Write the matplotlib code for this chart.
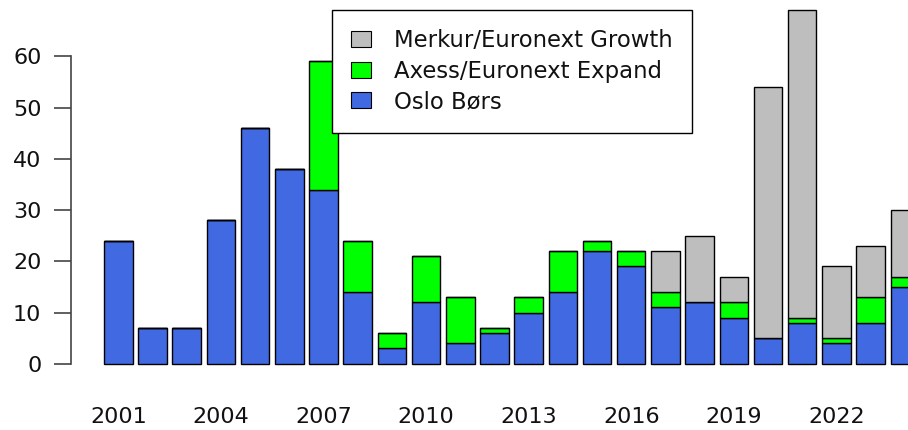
import numpy as np
import matplotlib
matplotlib.use("Agg")
import matplotlib.pyplot as plt
from matplotlib.patches import Patch

# === Data (listings per year and venue) ===
years = list(range(2001, 2025))
oslo = [24, 7, 7, 28, 46, 38, 34, 14, 3, 12, 4, 6, 10, 14, 22, 19, 11, 12, 9, 5, 8, 4, 8, 15]
axess = [0, 0, 0, 0, 0, 0, 25, 10, 3, 9, 9, 1, 3, 8, 2, 3, 3, 0, 3, 0, 1, 1, 5, 2]
merkur = [0, 0, 0, 0, 0, 0, 0, 0, 0, 0, 0, 0, 0, 0, 0, 0, 8, 13, 5, 49, 60, 14, 10, 13]

labels = ["Merkur/Euronext Growth", "Axess/Euronext Expand", "Oslo Børs"]
col_oslo = "#4169E1"
col_axess = "#00FF00"
col_merkur = "#BEBEBE"

plt.rcParams["font.family"] = ["DejaVu Sans"]
FS = 16
FS_LEG = 16.4

W, H, DPI = 908, 430, 100
fig = plt.figure(figsize=(W / DPI, H / DPI), dpi=DPI)

# R-style barplot geometry: width 1, space 0.2
x = 0.7 + 1.2 * np.arange(len(years))
xlim = (-0.944, 29.944)
ylim = (-2.76, 71.76)

# plot region in pixels (runs past the right and top of the image)
left_px, right_px = 71.4, 951.7
bot_px, top_px = 378.0, -4.0
ax = fig.add_axes([left_px / W, (H - bot_px) / H,
                   (right_px - left_px) / W, (bot_px - top_px) / H])
ax.patch.set_alpha(0)

oslo = np.array(oslo)
axess = np.array(axess)
merkur = np.array(merkur)

kw = dict(width=1.0, edgecolor="black", linewidth=1.0)
ax.bar(x, oslo, color=col_oslo, **kw)
ax.bar(x, axess, bottom=oslo, color=col_axess, **kw)
ax.bar(x, merkur, bottom=oslo + axess, color=col_merkur, **kw)

ax.set_xlim(*xlim)
ax.set_ylim(*ylim)

for s in ["top", "right", "bottom"]:
    ax.spines[s].set_visible(False)
ax.spines["left"].set_bounds(0, 60)
ax.spines["left"].set_color("#444444")
ax.spines["left"].set_linewidth(1.2)

ax.set_yticks(range(0, 61, 10))
ax.tick_params(axis="y", length=12.2, width=1.2, color="#444444",
               pad=9.4, labelsize=FS, labelcolor="#111111")

ax.set_xticks(x[::3])
ax.set_xticklabels([str(y) for y in years[::3]])
ax.tick_params(axis="x", length=0, pad=21, labelsize=FS, labelcolor="#111111")

handles = [Patch(facecolor=c, edgecolor="black", linewidth=0.8)
           for c in (col_merkur, col_axess, col_oslo)]
leg = ax.legend(handles, labels, loc="upper left",
                bbox_to_anchor=(332 / W, 1 - 10 / H),
                bbox_transform=fig.transFigure, borderaxespad=0,
                fontsize=FS_LEG, frameon=True, fancybox=False, framealpha=1,
                edgecolor="black", handlelength=0.88, handleheight=0.7,
                handletextpad=1.0, borderpad=0.85, labelspacing=0.33)
leg.get_frame().set_linewidth(1.0)
for t in leg.get_texts():
    t.set_color("#111111")

fig.savefig("out.png", dpi=DPI)
